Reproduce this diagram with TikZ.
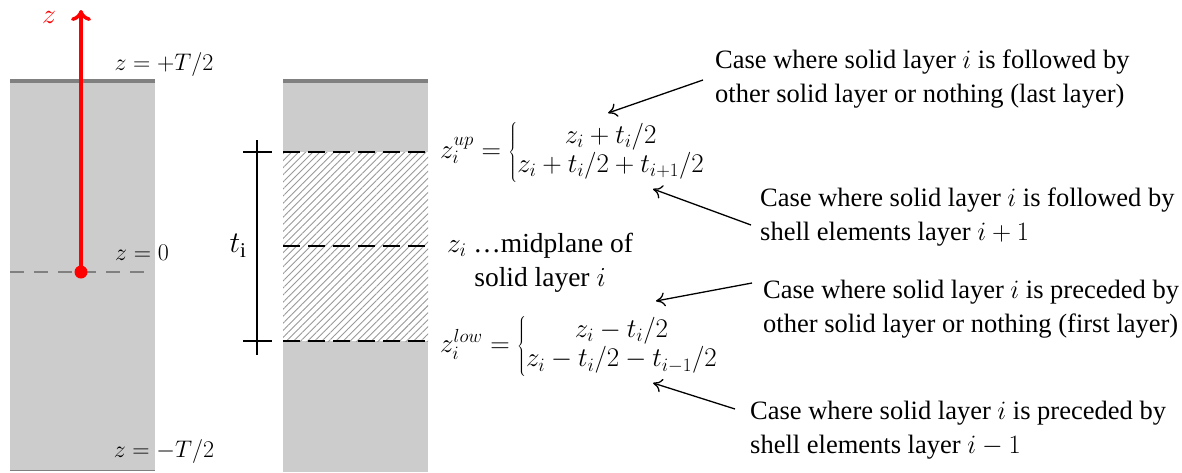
\documentclass[tikz,border=0pt]{standalone}
\usepackage{fix-cm}
\usepackage{fontspec}
\setmainfont{Liberation Serif}
\usetikzlibrary{arrows.meta,patterns.meta}
\definecolor{slab}{HTML}{CCCCCC}
\definecolor{edge}{HTML}{808080}
\tikzset{
  lbl/.style={inner sep=0pt,font=\fontsize{24}{34}\selectfont},
  fml/.style={inner sep=0pt,font=\fontsize{27}{34}\selectfont},
  note/.style={inner sep=0pt,align=left,font=\fontsize{26.5}{34}\selectfont},
  arr/.style={line width=1.3pt,-{To[length=9pt,width=14pt]}},
  blackdash/.style={line width=2.6pt,dash pattern=on 17pt off 8pt},
  graydash/.style={line width=2.6pt,edge,dash pattern=on 14pt off 10pt}
}
\begin{document}
\begin{tikzpicture}[x=1pt,y=-1pt]
\useasboundingbox (0,0) rectangle (1182,472);
% left slab
\fill[slab] (10,81) rectangle (155,470);
\draw[edge,line width=4pt] (10,81) -- (155,81);
\draw[edge,line width=1pt] (10,470) -- (155,470);
\draw[graydash] (10,272) -- (150,272);
% second slab
\fill[slab] (283,81) rectangle (428,472);
\draw[edge,line width=4pt] (283,81) -- (428,81);
\fill[white] (283,152) rectangle (428,341);
\fill[pattern={Lines[angle=45,distance=5pt,line width=0.9pt]},pattern color=edge!80] (283,152) rectangle (428,341);
\draw[blackdash] (283,152) -- (428,152);
\draw[blackdash] (283,246) -- (428,246);
\draw[blackdash] (283,341) -- (428,341);
% dimension
\coordinate (dtop) at (257,140);
\coordinate (dbot) at (257,355);
\draw[line width=1.5pt] (dtop) -- (dbot);
\draw[line width=1.5pt] (243,152) -- (272,152);
\draw[line width=1.5pt] (243,341) -- (272,341);
\node[lbl,font=\fontsize{30}{30}\selectfont] (ti) at (238,246) {$t_{\mathrm{i}}$};
% red axis
\coordinate (orig) at (81,272);
\coordinate (ztip) at (81,10);
\draw[red,line width=3.5pt,-{To[length=11pt,width=20pt,line width=3.5pt]}] (orig) -- (ztip);
\fill[red] (orig) circle (6.5);
\node[lbl,red,font=\fontsize{28}{30}\selectfont] (zlab) at (49,17) {$z$};
% left labels
\node[lbl] (ztop) at (164,64) {$z=+T/2$};
\node[lbl] (zmid) at (142,253) {$z=0$};
\node[lbl] (zbot) at (164,451) {$z=-T/2$};
% formulas
\node[fml,anchor=west] (zup) at (440,152) {\renewcommand{\arraystretch}{0.88}$z_i^{up}=\left\{\begin{array}{@{}c@{}}z_i+t_i/2\\ z_i+t_i/2+t_{i+1}/2\end{array}\right.$};
\node[fml,align=center,font=\fontsize{27.5}{34}\selectfont] (mid) at (540,263) {$z_i$ \ldots midplane of\\solid layer $i$};
\node[fml,anchor=west] (zlow) at (440,346) {\renewcommand{\arraystretch}{0.88}$z_i^{low}=\left\{\begin{array}{@{}c@{}}z_i-t_i/2\\ z_i-t_i/2-t_{i-1}/2\end{array}\right.$};
% notes
\node[note,anchor=west] (c1) at (715,79) {Case where solid layer $i$ is followed by\\other solid layer or nothing (last layer)};
\node[note,anchor=west] (c2) at (760,217) {Case where solid layer $i$ is followed by\\shell elements layer $i+1$};
\node[note,anchor=west] (c3) at (763,309) {Case where solid layer $i$ is preceded by\\other solid layer or nothing (first layer)};
\node[note,anchor=west] (c4) at (750,430) {Case where solid layer $i$ is preceded by\\shell elements layer $i-1$};
\coordinate (a1s) at (703,80);
\coordinate (a1e) at (608,113);
\coordinate (a2s) at (751,225);
\coordinate (a2e) at (653,189);
\coordinate (a3s) at (752,283);
\coordinate (a3e) at (656,301);
\coordinate (a4s) at (735,409);
\coordinate (a4e) at (653,383);
\draw[arr] (a1s) -- (a1e);
\draw[arr] (a2s) -- (a2e);
\draw[arr] (a3s) -- (a3e);
\draw[arr] (a4s) -- (a4e);
\end{tikzpicture}
\end{document}
